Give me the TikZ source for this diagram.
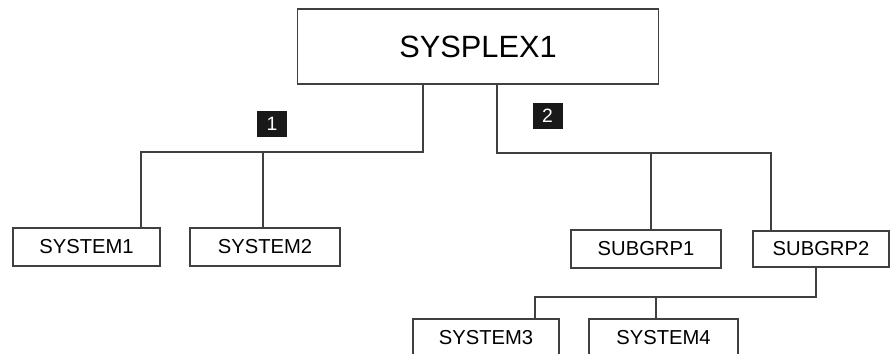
\documentclass[tikz,border=0pt]{standalone}
\usepackage{fontspec}
\setmainfont{Liberation Sans}
\usetikzlibrary{calc}

\begin{document}
\begin{tikzpicture}[x=0.02cm, y=-0.02cm,
    box/.style={draw=black!75, line width=0.6pt, inner sep=0pt, minimum height=0.76cm, font=\fontsize{11.5}{13}\selectfont},
    tagbox/.style={fill=black!90, text=white, inner sep=0pt, minimum width=0.6cm, minimum height=0.52cm, font=\fontsize{11}{13}\selectfont},
    link/.style={draw=black!75, line width=0.6pt}]

      \useasboundingbox (0,0) rectangle (890,354);
      \clip (0,0) rectangle (890,354);

      \node[box, minimum width=7.24cm, minimum height=1.5cm, font=\fontsize{17.5}{20}\selectfont] (sysplex) at (478,46.5) {SYSPLEX1};

      \node[box, minimum width=2.94cm] (sys1) at (86.5,247) {SYSTEM1};
      \node[box, minimum width=3.0cm] (sys2) at (265,247) {SYSTEM2};
      \node[box, minimum width=3.0cm] (sub1) at (646,249) {SUBGRP1};
      \node[box, minimum width=2.72cm, minimum height=0.72cm] (sub2) at (821,249) {SUBGRP2};
      \node[box, minimum width=2.92cm] (sys3) at (486,338) {SYSTEM3};
      \node[box, minimum width=2.98cm] (sys4) at (663.5,338) {SYSTEM4};

      \node[tagbox] (m1) at (272,124) {1};
      \node[tagbox] (m2) at (547.5,116) {2};

      \coordinate (lj) at (423,152);
      \coordinate (l1) at (141,152);
      \coordinate (l2) at (263,152);
      \coordinate (rj) at (497,153);
      \coordinate (r1) at (651,153);
      \coordinate (r2) at (771,153);
      \coordinate (bj) at (816,297);
      \coordinate (b3) at (535,297);
      \coordinate (b4) at (656,297);

      \draw[link] (sysplex.south -| lj) -- (lj) -- (l1) -- (l1 |- sys1.north);
      \draw[link] (l2) -- (l2 |- sys2.north);
      \draw[link] (sysplex.south -| rj) -- (rj) -- (r2) -- (r2 |- sub2.north);
      \draw[link] (r1) -- (r1 |- sub1.north);
      \draw[link] (bj |- sub2.south) -- (bj) -- (b3) -- (b3 |- sys3.north);
      \draw[link] (b4) -- (b4 |- sys4.north);

\end{tikzpicture}
\end{document}
